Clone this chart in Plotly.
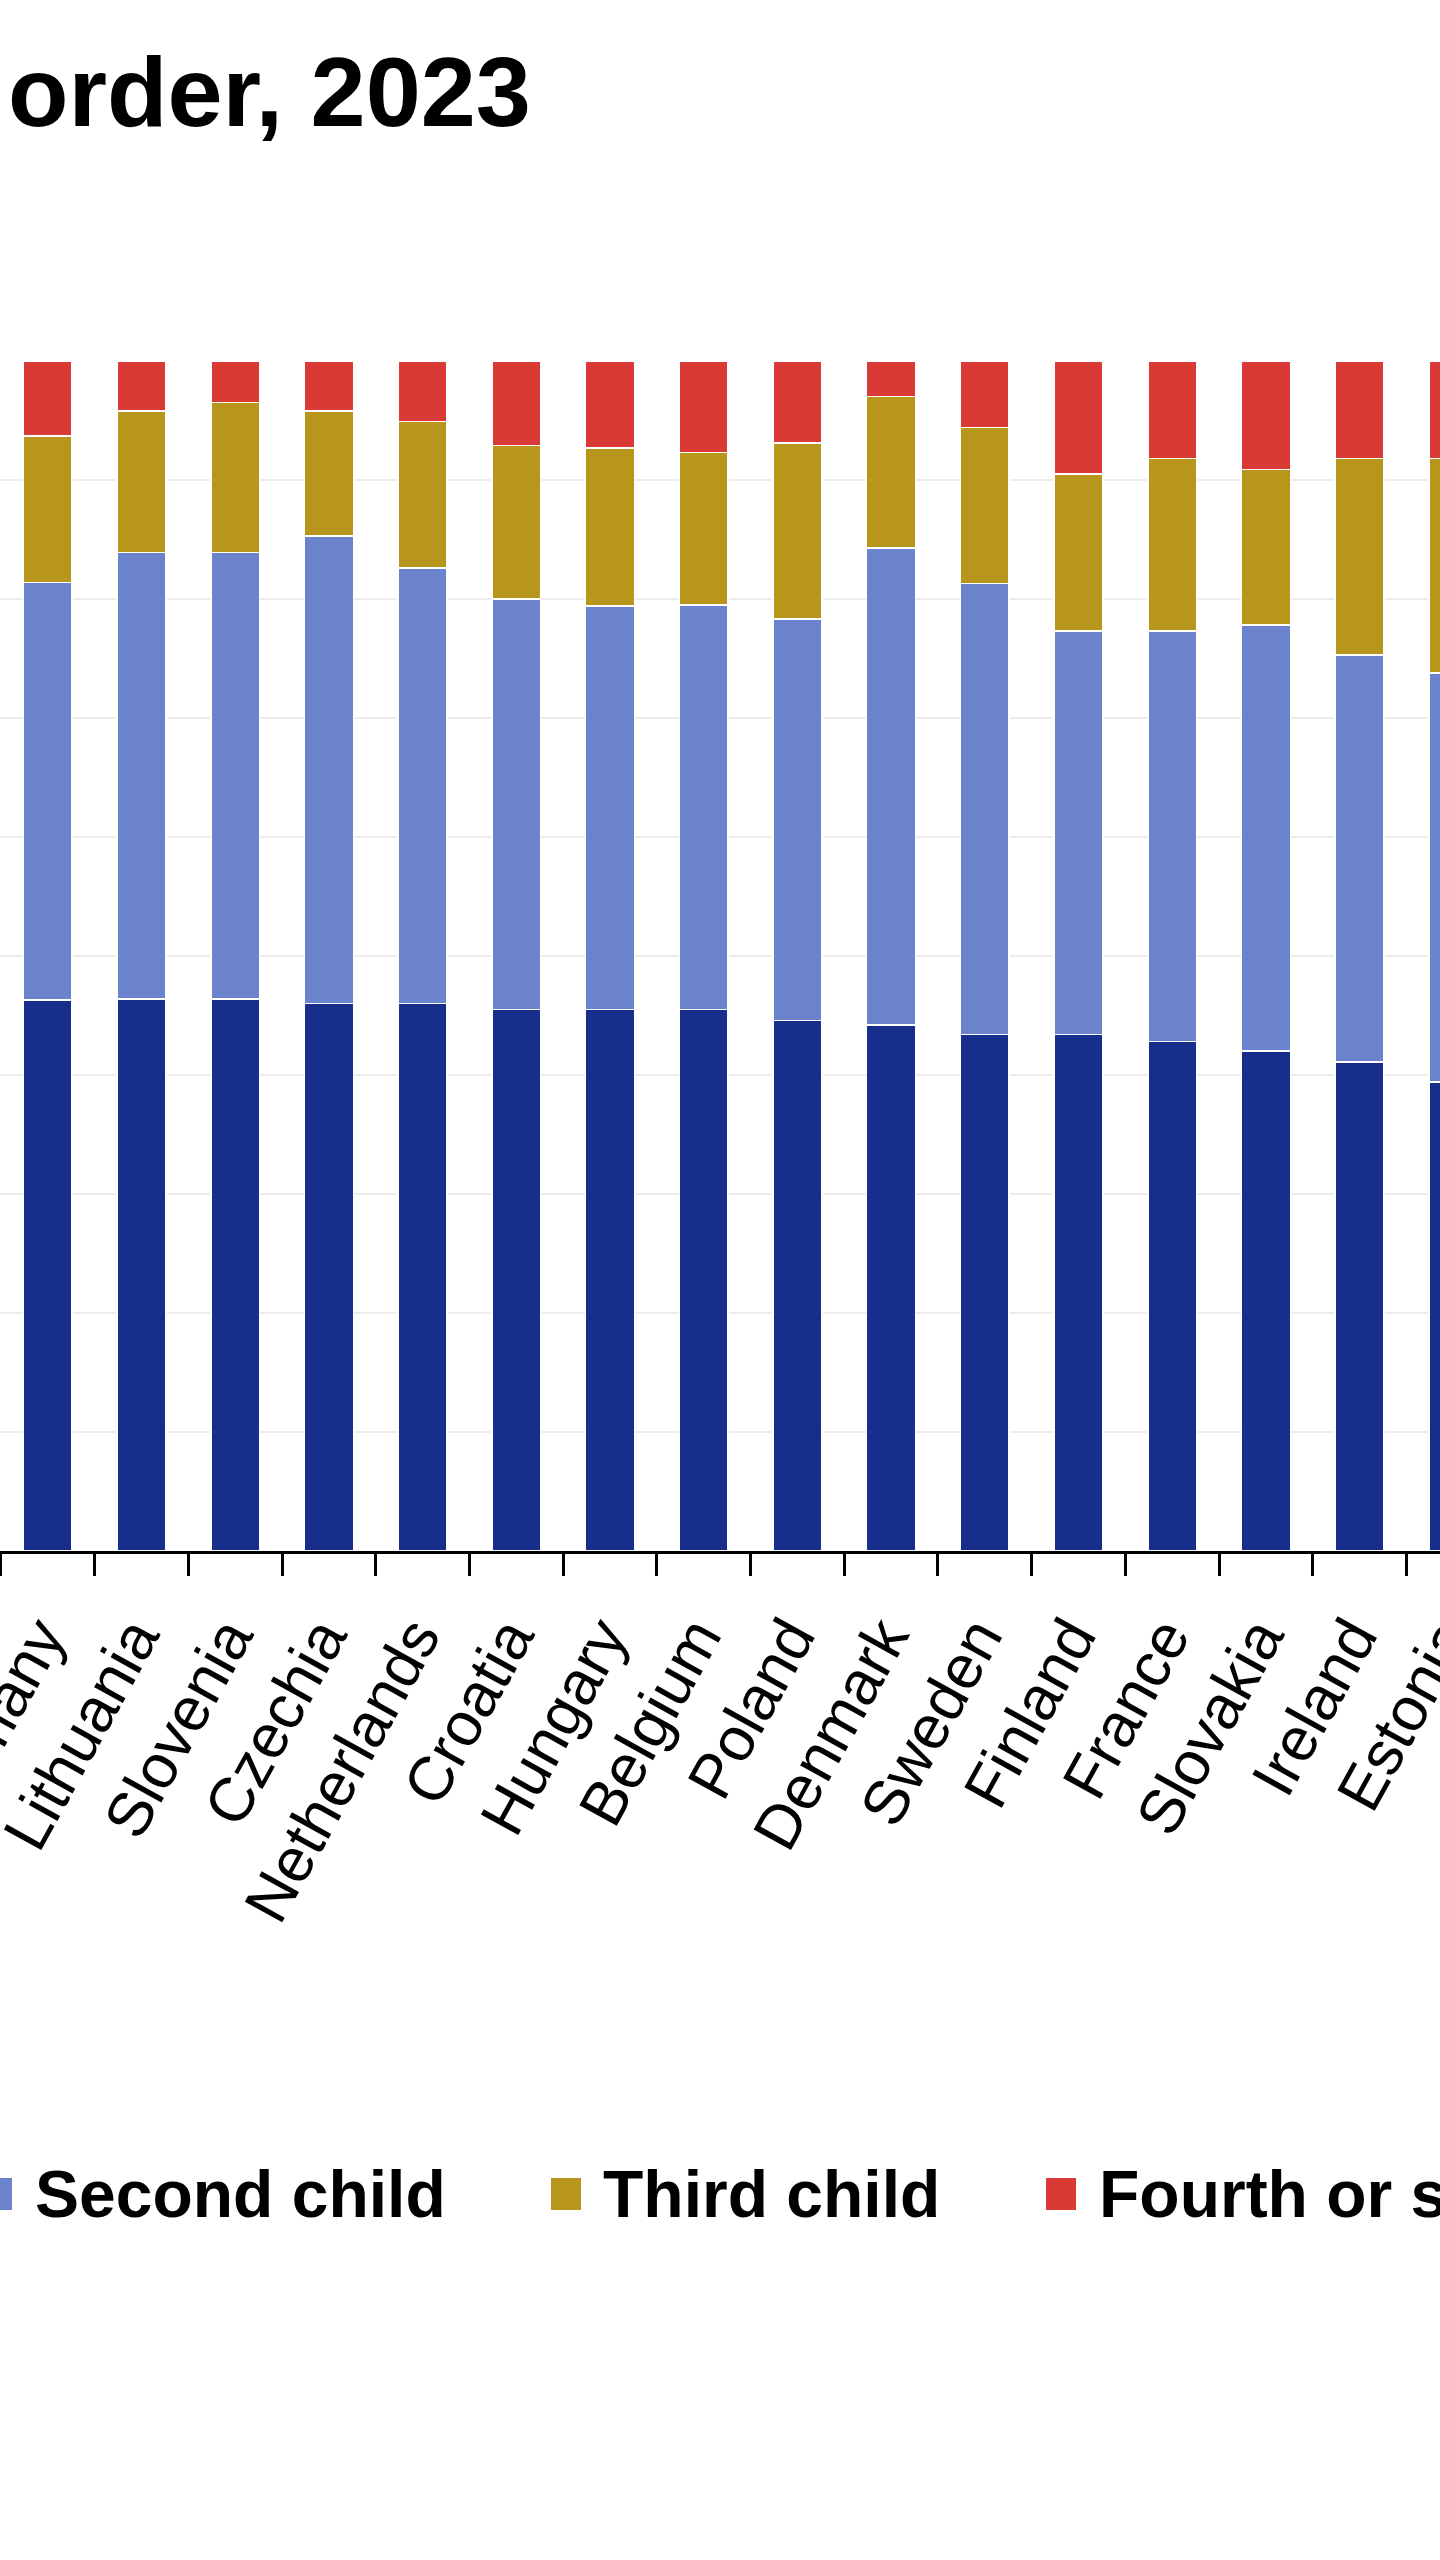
import plotly.graph_objects as go

# ---------------- data ----------------
countries = ["Germany", "Lithuania", "Slovenia", "Czechia", "Netherlands", "Croatia",
             "Hungary", "Belgium", "Poland", "Denmark", "Sweden", "Finland",
             "France", "Slovakia", "Ireland", "Estonia"]
first_child = [46.3, 46.4, 46.4, 46.0, 46.0, 45.5, 45.5, 45.5, 44.6, 44.2, 43.4, 43.4, 42.8, 42.0, 41.1, 39.4]
second_child = [35.1, 37.5, 37.5, 39.3, 36.6, 34.5, 33.9, 34.0, 33.7, 40.1, 37.9, 33.9, 34.5, 35.8, 34.2, 34.4]
third_child = [12.3, 11.9, 12.6, 10.5, 12.3, 12.9, 13.3, 12.8, 14.8, 12.7, 13.1, 13.2, 14.5, 13.1, 16.5, 18.0]
fourth_plus = [6.3, 4.2, 3.5, 4.2, 5.1, 7.1, 7.3, 7.7, 6.9, 3.0, 5.6, 9.5, 8.2, 9.1, 8.2, 8.2]
series_names = ["First child", "Second child", "Third child", "Fourth or subsequent child"]
series_values = [first_child, second_child, third_child, fourth_plus]
colors = ["#182e8c", "#6b82cc", "#b8961c", "#d93a36"]
title_text = "order, 2023"

# ---------------- layout geometry ----------------
W, H = 1440, 2560
M_T, M_B = 361, 1009
PLOT_H = H - M_T - M_B
STEP_PX = 93.7
X0 = -0.51
x_range = [X0, X0 + W / STEP_PX]
FONT = "Liberation Sans, Arial, sans-serif"


def xp(px):
    return px / W


def yp(py):
    return (H - M_B - py) / PLOT_H


positions = list(range(len(countries)))

fig = go.Figure()
for name, vals, col in zip(series_names, series_values, colors):
    fig.add_trace(go.Bar(
        x=positions, y=vals, name=name,
        marker=dict(color=col, line=dict(color="white", width=1.5)),
        showlegend=False,
    ))

fig.update_layout(
    width=W, height=H,
    barmode="stack", bargap=0.48,
    margin=dict(l=0, r=0, t=M_T, b=M_B, autoexpand=False),
    paper_bgcolor="white", plot_bgcolor="white",
    font=dict(family=FONT, color="black"),
)

fig.update_xaxes(
    range=x_range, tickmode="array",
    tickvals=[p - 0.5 for p in positions], ticktext=countries,
    ticklabelshift=int(round(STEP_PX / 2 - 8)),
    ticklabeloverflow="allow",
    tickangle=-61, tickfont=dict(size=62, family=FONT, color="black"),
    ticks="outside", ticklen=22, tickwidth=3, tickcolor="black",
    showline=True, linecolor="black", linewidth=3,
    showgrid=False, zeroline=False, automargin=False,
)
fig.update_yaxes(
    range=[0, 100], dtick=10, showticklabels=False,
    showgrid=True, gridcolor="#ececec", gridwidth=2,
    zeroline=False, automargin=False,
)

# title (visible portion)
fig.add_annotation(text="<b>" + title_text + "</b>", xref="paper", yref="paper",
                   x=xp(6), y=yp(92), xanchor="left", yanchor="middle",
                   showarrow=False, font=dict(size=99, family=FONT, color="black"))

# legend (manual, large swatches)
legend_items = [(1, -18, 33), (2, 551, 601), (3, 1046, 1097)]
for idx, sx, tx in legend_items:
    fig.add_shape(type="rect", xref="paper", yref="paper",
                  x0=xp(sx), x1=xp(sx + 30), y0=yp(2210), y1=yp(2178),
                  fillcolor=colors[idx], line=dict(width=0))
    fig.add_annotation(text="<b>" + series_names[idx] + "</b>", xref="paper", yref="paper",
                       x=xp(tx), y=yp(2194), xanchor="left", yanchor="middle",
                       showarrow=False, font=dict(size=66, family=FONT, color="black"))

fig.write_html("out.html", config={"displayModeBar": False},
               post_script="document.body.style.margin='0';document.body.style.overflow='hidden';")
